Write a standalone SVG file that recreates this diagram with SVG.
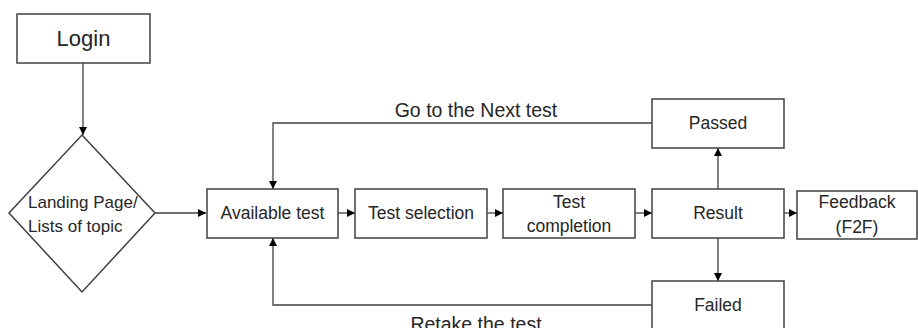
<svg xmlns="http://www.w3.org/2000/svg" width="918" height="328" viewBox="0 0 918 328">
<defs>
<marker id="ah" viewBox="0 0 10 10" refX="10" refY="5" markerWidth="8" markerHeight="8" markerUnits="userSpaceOnUse" orient="auto">
<path d="M0,0 L10,5 L0,10 z" fill="#000"/>
</marker>
<style>
.box{fill:#fff;stroke:#404040;stroke-width:1.5}
.t{font-family:"Liberation Sans",Arial,sans-serif;font-size:17.5px;fill:#262626;text-anchor:middle}
.lbl{font-family:"Liberation Sans",Arial,sans-serif;font-size:19.5px;fill:#262626;text-anchor:middle}
.c{fill:none;stroke:#404040;stroke-width:1.3;marker-end:url(#ah)}
</style>
</defs>
<rect width="918" height="328" fill="#fff"/>
<g id="connectors">
<path class="c" d="M83,63 L83,135"/>
<path class="c" d="M155,213 L206,213"/>
<path class="c" d="M338,213 L355,213"/>
<path class="c" d="M487,213 L503,213"/>
<path class="c" d="M635,213 L652,213"/>
<path class="c" d="M784,213 L797,213"/>
<path class="c" d="M718,189 L718,148"/>
<path class="c" d="M718,238 L718,281"/>
<path class="c" d="M652,123 L273,123 L273,189"/>
<path class="c" d="M652,305 L273,305 L273,238"/>
<text class="lbl" x="476" y="117">Go to the Next test</text>
<text class="lbl" x="476" y="331">Retake the test</text>
</g>
<g id="login">
<rect class="box" x="17" y="14" width="133" height="49"/>
<text class="t" x="83.5" y="46" style="font-size:22px">Login</text>
</g>
<g id="landing">
<polygon class="box" points="82,135 155,213 82,292 9,213"/>
<text class="t" x="28" y="208" style="text-anchor:start;font-size:17px">Landing Page/</text>
<text class="t" x="28" y="232" style="text-anchor:start;font-size:17px">Lists of topic</text>
</g>
<g id="available">
<rect class="box" x="207" y="189" width="131" height="49"/>
<text class="t" x="272.5" y="219">Available test</text>
</g>
<g id="selection">
<rect class="box" x="355" y="189" width="132" height="49"/>
<text class="t" x="421" y="219">Test selection</text>
</g>
<g id="completion">
<rect class="box" x="503" y="189" width="132" height="49"/>
<text class="t" x="569" y="208">Test</text>
<text class="t" x="569" y="232">completion</text>
</g>
<g id="result">
<rect class="box" x="652" y="189" width="132" height="49"/>
<text class="t" x="718" y="219">Result</text>
</g>
<g id="feedback">
<rect class="box" x="797" y="191" width="120" height="48"/>
<text class="t" x="857" y="208">Feedback</text>
<text class="t" x="857" y="233">(F2F)</text>
</g>
<g id="passed">
<rect class="box" x="652" y="99" width="132" height="49"/>
<text class="t" x="718" y="129">Passed</text>
</g>
<g id="failed">
<rect class="box" x="652" y="281" width="132" height="60"/>
<text class="t" x="718" y="311">Failed</text>
</g>
</svg>
